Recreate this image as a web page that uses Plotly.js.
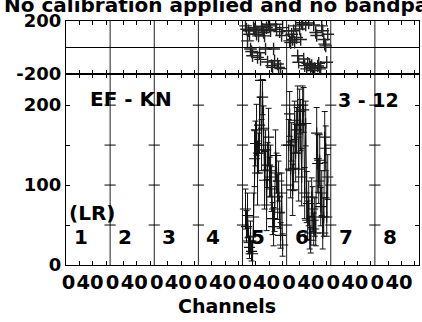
<!DOCTYPE html>
<html><head><meta charset="utf-8">
<script src="https://cdn.plot.ly/plotly-3.0.1.min.js"></script>
<style>html,body{margin:0;padding:0;background:#fff;}#chart{width:422px;height:322px;}</style>
</head><body><div id="chart"></div>
<script>
// ---- data ----
const panelNames = ['1','2','3','4','5','6','7','8'];
const panelWidth = 44;               // channels per panel slot
const xTickLabels = ['0','40'];
const xLabelOffsets = [2.5, 24];
const xMinorOffsets = [13.33, 26.67, 40];
const ampTickVals = [0, 50, 100, 150, 200];
const ampTickText = ['0', '', '100', '', '200'];
const phaseTickVals = [-200, 0, 200];
const phaseTickText = ['-200', '', '200'];

// IF 5
const chan5 = [3,4,5,6,7,8,9,10,11,12,13,14,15,16,17,18,19,20,21,22,23,24,25,26,27,28,29,30,31,32,33,34,35,36,37,38,39,40];
const amp5  = [70,48,62,30,22,35,17,14,60,133,152,169,115,140,175,231,150,210,171,106,144,75,125,160,110,118,95,58,48,70,137,115,85,105,66,37,90,25];
const err5  = [25,20,28,16,14,20,12,16,30,35,28,32,40,25,35,0,32,22,28,36,25,32,28,36,25,32,28,20,24,28,32,25,28,25,20,16,25,14];
const phase5 = [163,138,50,126,100,-12,-30,-62,150,140,126,100,-75,88,-40,-90,160,138,113,88,-12,150,-110,175,163,126,-137,-150,-12,-100,175,138,-125,-150,120,-160,90,150];

// IF 6
const chan6 = [2,3,4,5,6,7,8,9,10,11,12,13,14,15,16,17,18,19,20,21,22,23,24,25,26,27,28,29,30,31,32,33,34,35,36,37,38,39,40,41];
const amp6  = [150,189,120,154,94,121,181,140,169,200,120,192,175,110,200,194,90,177,85,56,77,40,31,85,70,45,60,40,165,127,105,131,73,90,40,60,160,146,60,110];
const err6  = [32,28,36,24,32,28,24,36,28,24,40,28,32,36,24,28,32,28,32,24,28,20,16,24,28,20,24,16,32,36,28,32,24,28,20,24,32,28,24,28];
const phase6 = [126,50,37,100,60,126,40,163,75,-62,-112,140,60,188,175,-87,-137,170,-162,-120,185,-130,-150,-137,-175,170,-160,113,90,-140,-120,-162,-150,163,126,60,25,12,-112,100];

// ---- helpers ----
const nP = panelNames.length;
const span = nP * panelWidth;
const slotX = (panelIdx, ch) => ch.map(c => panelIdx * panelWidth + c);
const boundaries = Array.from({length: nP + 1}, (_, i) => i * panelWidth);
const minorVals = [];
panelNames.forEach((_, p) => xMinorOffsets.forEach(o => minorVals.push(p * panelWidth + o)));
const labelVals = [], labelText = [];
panelNames.forEach((_, p) => xLabelOffsets.forEach((o, k) => { labelVals.push(p * panelWidth + o); labelText.push(xTickLabels[k]); }));
// small cross ticks on inner separators
const sepX = [], sepY = [];
boundaries.slice(1, -1).forEach(b => ampTickVals.slice(1).forEach(v => { sepX.push(b); sepY.push(v); }));

const F = {family: 'DejaVu Sans', weight: 'bold', color: '#000'};
const ampMarker = {symbol: 'cross-thin', size: 8, line: {width: 1.1, color: '#111'}, color: '#111'};
const phMarker = {symbol: 'cross-thin', size: 9, line: {width: 1.4, color: '#222'}, color: '#222'};

const traces = [
  {x: slotX(4, chan5), y: amp5, xaxis: 'x', yaxis: 'y', mode: 'lines+markers', line: {color: '#111', width: 1},
   marker: ampMarker, error_y: {type: 'data', array: err5, color: '#111', thickness: 1, width: 3}, hoverinfo: 'skip'},
  {x: slotX(5, chan6), y: amp6, xaxis: 'x', yaxis: 'y', mode: 'lines+markers', line: {color: '#111', width: 1},
   marker: ampMarker, error_y: {type: 'data', array: err6, color: '#111', thickness: 1, width: 3}, hoverinfo: 'skip'},
  {x: slotX(4, chan5), y: phase5, xaxis: 'x2', yaxis: 'y2', mode: 'markers', marker: phMarker, hoverinfo: 'skip'},
  {x: slotX(5, chan6), y: phase6, xaxis: 'x2', yaxis: 'y2', mode: 'markers', marker: phMarker, hoverinfo: 'skip'},
  {x: sepX, y: sepY, xaxis: 'x', yaxis: 'y', mode: 'markers', marker: {symbol: 'line-ew', size: 8, line: {width: 1, color: '#000'}}, hoverinfo: 'skip'}
];

const ampTop = 239;
const splitFrac = 0.783;

const minorTicks = {tickmode: 'array', tickvals: minorVals, ticks: 'inside', ticklen: 4, tickcolor: '#000', tickwidth: 1, showgrid: false};

const shapes = boundaries.slice(1, -1).map(b => ({type: 'line', xref: 'x', yref: 'paper', x0: b, x1: b, y0: 0, y1: 1,
  line: {color: '#222', width: 1}, layer: 'below'}));

const annotations = panelNames.map((n, p) => ({text: n, x: p * panelWidth + 15, y: 35, xref: 'x', yref: 'y',
  showarrow: false, font: Object.assign({size: 20}, F)}));
annotations.push({text: '(LR)', x: 25.5, y: 65, xref: 'x', yref: 'y', showarrow: false, font: Object.assign({size: 20}, F)});
annotations.push({text: 'EF - KN', x: 65, y: 208, xref: 'x', yref: 'y', showarrow: false, font: Object.assign({size: 20}, F)});
annotations.push({text: '3 - 12', x: 301.5, y: 206, xref: 'x', yref: 'y', showarrow: false, font: Object.assign({size: 19}, F)});
annotations.push({text: 'Channels', x: 0.4575, y: -0.168, xref: 'paper', yref: 'paper', yanchor: 'middle', showarrow: false, font: Object.assign({size: 19}, F)});

const layout = {
  width: 422, height: 322,
  margin: {l: 66, r: 3, t: 21, b: 57, pad: 0},
  paper_bgcolor: '#fff', plot_bgcolor: '#fff',
  showlegend: false,
  font: Object.assign({size: 18}, F),
  title: {text: 'No calibration applied and no bandpass applied', xref: 'container', x: 4 / 422, xanchor: 'left',
          yref: 'container', y: 1 - 5 / 322, yanchor: 'middle', font: Object.assign({size: 20}, F)},
  xaxis: {domain: [0, 1], anchor: 'y', range: [0, span], tickmode: 'array', tickvals: labelVals, ticktext: labelText,
          tickangle: 0, ticks: '', showgrid: false, zeroline: false, showline: true, linecolor: '#000', linewidth: 1, mirror: 'allticks',
          tickfont: Object.assign({size: 19.5}, F), minor: minorTicks},
  xaxis2: {domain: [0, 1], anchor: 'y2', range: [0, span], tickmode: 'array', tickvals: labelVals, showticklabels: false,
          ticks: '', showgrid: false, zeroline: false, showline: true, linecolor: '#000', linewidth: 1, mirror: 'allticks',
          minor: minorTicks},
  yaxis: {domain: [0, splitFrac], range: [0, ampTop], tickmode: 'array', tickvals: ampTickVals, ticktext: ampTickText,
          ticks: 'inside', ticklen: 4, tickcolor: '#000', showgrid: false, zeroline: false, showline: true, linecolor: '#000',
          mirror: 'ticks', tickfont: Object.assign({size: 18}, F)},
  yaxis2: {domain: [splitFrac, 1], range: [-200, 200], tickmode: 'array', tickvals: phaseTickVals, ticktext: phaseTickText,
           ticks: '', showgrid: true, gridcolor: '#000', gridwidth: 1, zeroline: false, showline: true, linecolor: '#000',
           mirror: true, tickfont: Object.assign({size: 18}, F)},
  shapes: shapes,
  annotations: annotations
};

Plotly.newPlot('chart', traces, layout, {staticPlot: true, displayModeBar: false});
</script></body></html>
